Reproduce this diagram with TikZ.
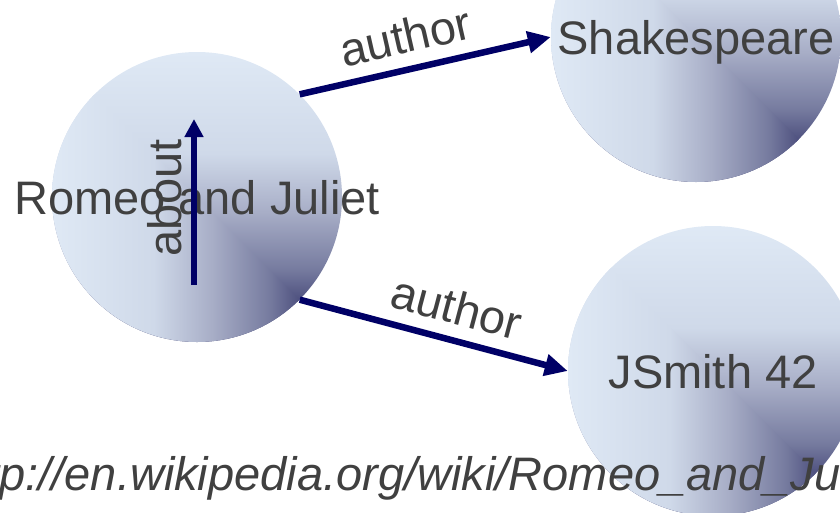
\documentclass[tikz,border=0pt]{standalone}
\usepackage{fontspec}
\setmainfont{Liberation Sans}
\usetikzlibrary{arrows.meta}
\definecolor{balllight}{RGB}{223,233,245}
\definecolor{ballpale}{RGB}{207,217,233}
\definecolor{ballmid}{RGB}{168,174,199}
\definecolor{balldeep}{RGB}{118,123,159}
\definecolor{balldim}{RGB}{72,74,122}
\definecolor{balldark}{RGB}{50,52,105}
\definecolor{linknavy}{RGB}{0,0,102}
\definecolor{textgray}{RGB}{64,64,64}
% the path's box is mapped onto 25bp..75bp of the shading
\pgfdeclarehorizontalshading{ballacross}{100bp}{color(0bp)=(balllight); color(25bp)=(balllight); color(42.5bp)=(ballpale); color(52.5bp)=(ballmid); color(62.5bp)=(balldeep); color(68.5bp)=(balldim); color(75bp)=(balldark); color(100bp)=(balldark)}
\pgfdeclareverticalshading{balldown}{100bp}{color(0bp)=(balldark); color(25bp)=(balldark); color(31.5bp)=(balldim); color(37.5bp)=(balldeep); color(47.5bp)=(ballmid); color(57.5bp)=(ballpale); color(75bp)=(balllight); color(100bp)=(balllight)}
\newcommand\ballfont{\fontsize{47}{56}\selectfont}
\tikzstyle{ball}=[circle,minimum size=290pt,inner sep=0pt,path picture={
    \shade[shading=balldown] (path picture bounding box.south west) rectangle (path picture bounding box.north east);
    \shade[shading=ballacross] (path picture bounding box.south east) -- (path picture bounding box.south west) -- (path picture bounding box.north west) -- cycle;}]
\tikzstyle{balltext}=[font=\ballfont,text=textgray,text height=34pt,text depth=0pt,inner sep=0pt]
\tikzstyle{link}=[draw=linknavy,line width=6.5pt,-{Triangle[length=23pt,width=21pt]}]
\tikzstyle{linklabel}=[font=\ballfont,text=textgray,inner xsep=0pt,text depth=0pt]
\tikzstyle{urltext}=[font=\ballfont\itshape,text=textgray,inner sep=0pt]
\begin{document}
\begin{tikzpicture}[x=1pt,y=-1pt]
    \useasboundingbox (0,0) rectangle (840,512);
    \clip (0,0) rectangle (840,512);

    \foreach \pos/ \name/ \word in {{(197,197)/romeo/Romeo and Juliet}, {(696,37)/shakespeare/Shakespeare}, {(713,371)/jsmith/JSmith 42}}
        \node[ball,label={[balltext]center:\word}] (\name) at \pos {};

    % statements about the play
    \draw[link] (romeo.45) -- node[linklabel,inner ysep=13pt,pos=0.45,sloped,above] (authortop) {author} (shakespeare.west);
    \draw[link] (romeo.-45) -- node[linklabel,inner ysep=13pt,pos=0.555,sloped,above] (authorbottom) {author} (jsmith.west);

    \coordinate (abouttail) at (194,285);
    \coordinate (abouthead) at (194,119);
    \draw[link,-{Triangle[length=18pt,width=18pt]}] (abouttail) -- node[linklabel,inner ysep=9pt,pos=0.524,sloped,above] (aboutlabel) {about} (abouthead);

    \node[urltext,anchor=base west] (wikilink) at (-53,490) {http://en.wikipedia.org/wiki/Romeo\_and\_Juliet};
\end{tikzpicture}
\end{document}
